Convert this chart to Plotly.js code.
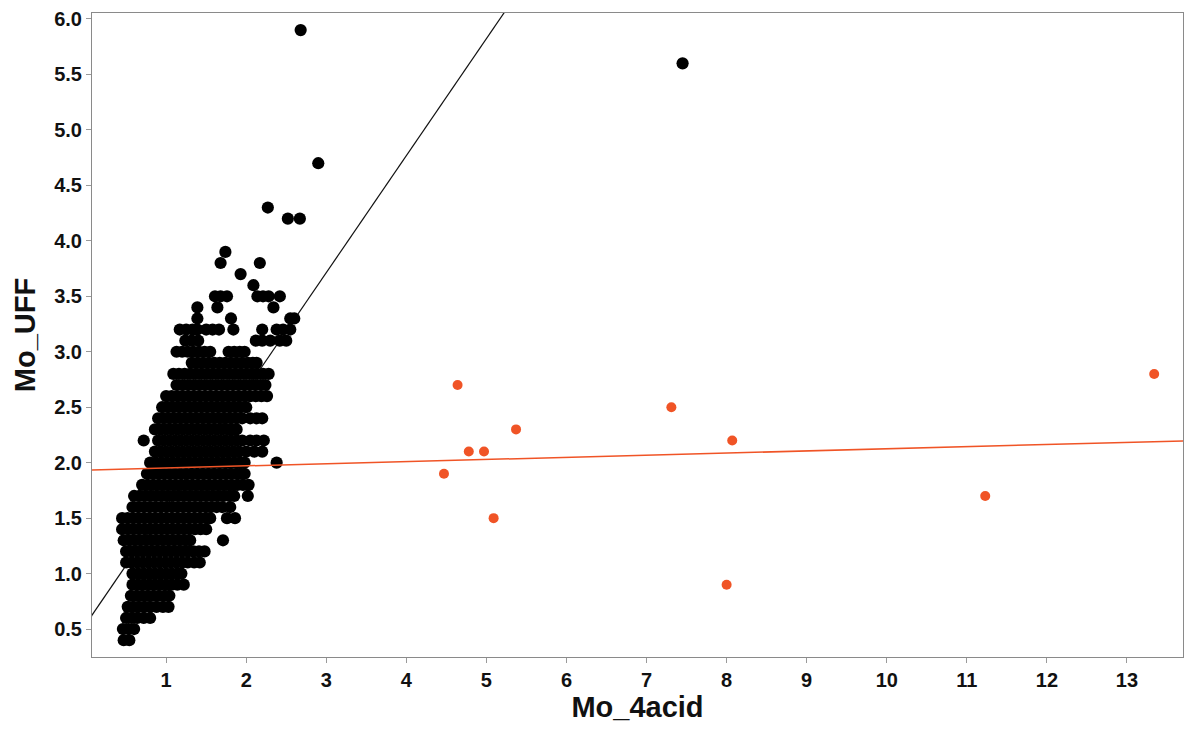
<!DOCTYPE html>
<html>
<head>
<meta charset="utf-8">
<script src="https://cdn.plot.ly/plotly-3.0.1.min.js"></script>
<style>
  html, body { margin: 0; padding: 0; background: #ffffff; }
  #chart { width: 1188px; height: 734px; }
</style>
</head>
<body>
<div id="chart"></div>
<script>
// Mo_UFF vs Mo_4acid — main population (black) and the high-Mo_4acid group (orange)

// Main population: Mo_UFF is reported to 0.1, so points sit on rows.
const rowLevels = [0.4, 0.5, 0.6, 0.7, 0.8, 0.9, 1.0, 1.1, 1.2, 1.3, 1.4, 1.5, 1.6, 1.7, 1.8,
                   1.9, 2.0, 2.1, 2.2, 2.3, 2.4, 2.5, 2.6, 2.7, 2.8, 2.9, 3.0, 3.1, 3.2, 3.3,
                   3.4, 3.5];
const rowMo4acid = [
  [0.47, 0.54],
  [0.46, 0.53, 0.60],
  [0.50, 0.57, 0.64, 0.72, 0.80],
  [0.52, 0.59, 0.66, 0.73, 0.80, 0.88, 0.96, 1.03],
  [0.56, 0.63, 0.70, 0.77, 0.84, 0.91, 0.98, 1.04],
  [0.58, 0.65, 0.72, 0.79, 0.86, 0.93, 1.00, 1.07, 1.14, 1.22],
  [0.58, 0.65, 0.72, 0.79, 0.86, 0.93, 1.00, 1.07, 1.14, 1.19],
  [0.50, 0.57, 0.64, 0.71, 0.78, 0.85, 0.92, 0.99, 1.06, 1.13, 1.20, 1.27, 1.35, 1.42],
  [0.50, 0.57, 0.64, 0.71, 0.78, 0.85, 0.92, 0.99, 1.06, 1.13, 1.20, 1.27, 1.34, 1.41, 1.48],
  [0.47, 0.54, 0.61, 0.68, 0.75, 0.82, 0.89, 0.96, 1.03, 1.10, 1.17, 1.24, 1.30, 1.71],
  [0.45, 0.52, 0.59, 0.66, 0.73, 0.80, 0.87, 0.94, 1.01, 1.08, 1.15, 1.22, 1.29, 1.36, 1.43, 1.50],
  [0.45, 0.52, 0.59, 0.66, 0.73, 0.80, 0.87, 0.94, 1.01, 1.08, 1.15, 1.22, 1.29, 1.36, 1.43, 1.50, 1.55, 1.76, 1.86],
  [0.58, 0.65, 0.72, 0.79, 0.86, 0.93, 1.00, 1.07, 1.14, 1.21, 1.28, 1.35, 1.42, 1.49, 1.56, 1.63, 1.70, 1.80],
  [0.60, 0.67, 0.74, 0.81, 0.88, 0.95, 1.02, 1.09, 1.16, 1.23, 1.30, 1.37, 1.44, 1.51, 1.58, 1.65, 1.72, 1.79, 1.85, 2.02],
  [0.70, 0.77, 0.84, 0.91, 0.98, 1.05, 1.12, 1.19, 1.26, 1.33, 1.40, 1.47, 1.54, 1.61, 1.68, 1.75, 1.82, 1.89, 1.96, 2.03],
  [0.76, 0.83, 0.90, 0.97, 1.04, 1.11, 1.18, 1.25, 1.32, 1.39, 1.46, 1.53, 1.60, 1.67, 1.74, 1.81, 1.88, 1.93, 1.98],
  [0.80, 0.87, 0.94, 1.01, 1.08, 1.15, 1.22, 1.29, 1.36, 1.43, 1.50, 1.57, 1.64, 1.71, 1.78, 1.85, 1.92, 1.98, 2.38],
  [0.86, 0.93, 1.00, 1.07, 1.14, 1.21, 1.28, 1.35, 1.42, 1.49, 1.56, 1.63, 1.70, 1.77, 1.84, 1.91, 2.00, 2.10, 2.20],
  [0.72, 0.90, 0.97, 1.04, 1.11, 1.18, 1.25, 1.32, 1.39, 1.46, 1.53, 1.60, 1.67, 1.74, 1.81, 1.88, 1.95, 2.05, 2.13, 2.22],
  [0.86, 0.93, 1.00, 1.07, 1.14, 1.21, 1.28, 1.35, 1.42, 1.49, 1.56, 1.63, 1.70, 1.77, 1.83, 1.88],
  [0.90, 0.97, 1.04, 1.11, 1.18, 1.25, 1.32, 1.39, 1.46, 1.53, 1.60, 1.67, 1.74, 1.81, 1.88, 1.95, 2.05, 2.13, 2.20],
  [0.95, 1.02, 1.09, 1.16, 1.23, 1.30, 1.37, 1.44, 1.51, 1.58, 1.65, 1.72, 1.79, 1.86, 1.93, 2.00],
  [1.00, 1.07, 1.14, 1.21, 1.28, 1.35, 1.42, 1.49, 1.56, 1.63, 1.70, 1.77, 1.84, 1.91, 1.98, 2.05, 2.12, 2.19, 2.26],
  [1.13, 1.20, 1.27, 1.34, 1.41, 1.48, 1.55, 1.62, 1.69, 1.76, 1.83, 1.90, 1.97, 2.04, 2.11, 2.18, 2.24],
  [1.09, 1.16, 1.23, 1.30, 1.37, 1.44, 1.51, 1.58, 1.65, 1.72, 1.79, 1.86, 1.93, 2.00, 2.07, 2.14, 2.21, 2.28],
  [1.32, 1.39, 1.46, 1.53, 1.60, 1.67, 1.74, 1.81, 1.88, 1.95, 2.02, 2.08, 2.13],
  [1.13, 1.20, 1.27, 1.34, 1.41, 1.48, 1.55, 1.78, 1.85, 1.92, 1.98],
  [1.24, 1.32, 1.40, 2.12, 2.20, 2.30, 2.42, 2.50],
  [1.17, 1.25, 1.33, 1.39, 1.50, 1.58, 1.66, 1.84, 2.20, 2.38, 2.46, 2.55],
  [1.39, 1.81, 2.55, 2.60],
  [1.39, 1.64, 2.34],
  [1.61, 1.68, 1.76, 2.14, 2.21, 2.28, 2.42]
];

// Main population: scattered high values above the bulk
const upperMo4acid = [2.09, 1.93, 1.68, 2.17, 1.74, 2.52, 2.67, 2.27, 2.90, 2.68, 7.45];
const upperMoUFF   = [3.6,  3.7,  3.8,  3.8,  3.9,  4.2,  4.2,  4.3,  4.7,  5.9,  5.6];

// High-Mo_4acid group
const orangeMo4acid = [4.47, 4.64, 4.78, 4.97, 5.09, 5.37, 7.31, 8.00, 8.07, 11.23, 13.34];
const orangeMoUFF   = [1.9,  2.7,  2.1,  2.1,  1.5,  2.3,  2.5,  0.9,  2.2,  1.7,   2.8];

// Least-squares lines [intercept, slope]
const fitMain   = [0.548, 1.055];
const fitOrange = [1.933, 0.0192];

const xRange = [0.074, 13.70];
const yRange = [0.248, 6.054];
const xTicks = [1, 2, 3, 4, 5, 6, 7, 8, 9, 10, 11, 12, 13];
const yTicks = [0.5, 1.0, 1.5, 2.0, 2.5, 3.0, 3.5, 4.0, 4.5, 5.0, 5.5, 6.0];

const blackX = [], blackY = [];
rowLevels.forEach((lvl, i) => {
  rowMo4acid[i].forEach(v => { blackX.push(v); blackY.push(lvl); });
});
upperMo4acid.forEach((v, i) => { blackX.push(v); blackY.push(upperMoUFF[i]); });

const lineX = [0, 14];
const lineOf = c => lineX.map(x => c[0] + c[1] * x);

const ORANGE = 'rgb(240,84,38)';
const FONT = 'Liberation Sans, Arial, Helvetica, sans-serif';

// the black fit sits beneath the black points; the orange fit is drawn over them
const traces = [
  { x: lineX, y: lineOf(fitMain), type: 'scatter', mode: 'lines',
    line: { color: '#111111', width: 1.2 }, hoverinfo: 'skip' },
  { x: blackX, y: blackY, type: 'scatter', mode: 'markers',
    marker: { color: '#000000', size: 12.2, line: { width: 0 } }, hoverinfo: 'x+y' },
  { x: orangeMo4acid, y: orangeMoUFF, type: 'scatter', mode: 'markers',
    marker: { color: ORANGE, size: 10, line: { width: 0 } }, hoverinfo: 'x+y' },
  { x: lineX, y: lineOf(fitOrange), type: 'scatter', mode: 'lines',
    line: { color: ORANGE, width: 1.5 }, hoverinfo: 'skip' }
];

const axisCommon = {
  showgrid: false, zeroline: false,
  showline: true, mirror: true, linecolor: '#8a8a8a', linewidth: 1,
  ticks: 'outside', ticklen: 5, tickwidth: 1, tickcolor: '#9a9a9a',
  tickfont: { family: FONT, size: 20, color: '#111111', weight: 'bold' }
};

const layout = {
  width: 1188, height: 734,
  margin: { l: 92, r: 5, t: 13, b: 77, pad: 0 },
  paper_bgcolor: '#ffffff', plot_bgcolor: '#ffffff',
  showlegend: false,
  xaxis: Object.assign({}, axisCommon, {
    range: xRange, tickmode: 'array', tickvals: xTicks,
    title: { text: 'Mo_4acid', standoff: 6,
             font: { family: FONT, size: 29, color: '#111111', weight: 'bold' } }
  }),
  yaxis: Object.assign({}, axisCommon, {
    range: yRange, tickmode: 'array', tickvals: yTicks,
    ticktext: yTicks.map(v => v.toFixed(1)),
    title: { text: 'Mo_UFF', standoff: 10,
             font: { family: FONT, size: 29, color: '#111111', weight: 'bold' } }
  })
};

Plotly.newPlot('chart', traces, layout, { displayModeBar: false, staticPlot: true });
</script>
</body>
</html>
